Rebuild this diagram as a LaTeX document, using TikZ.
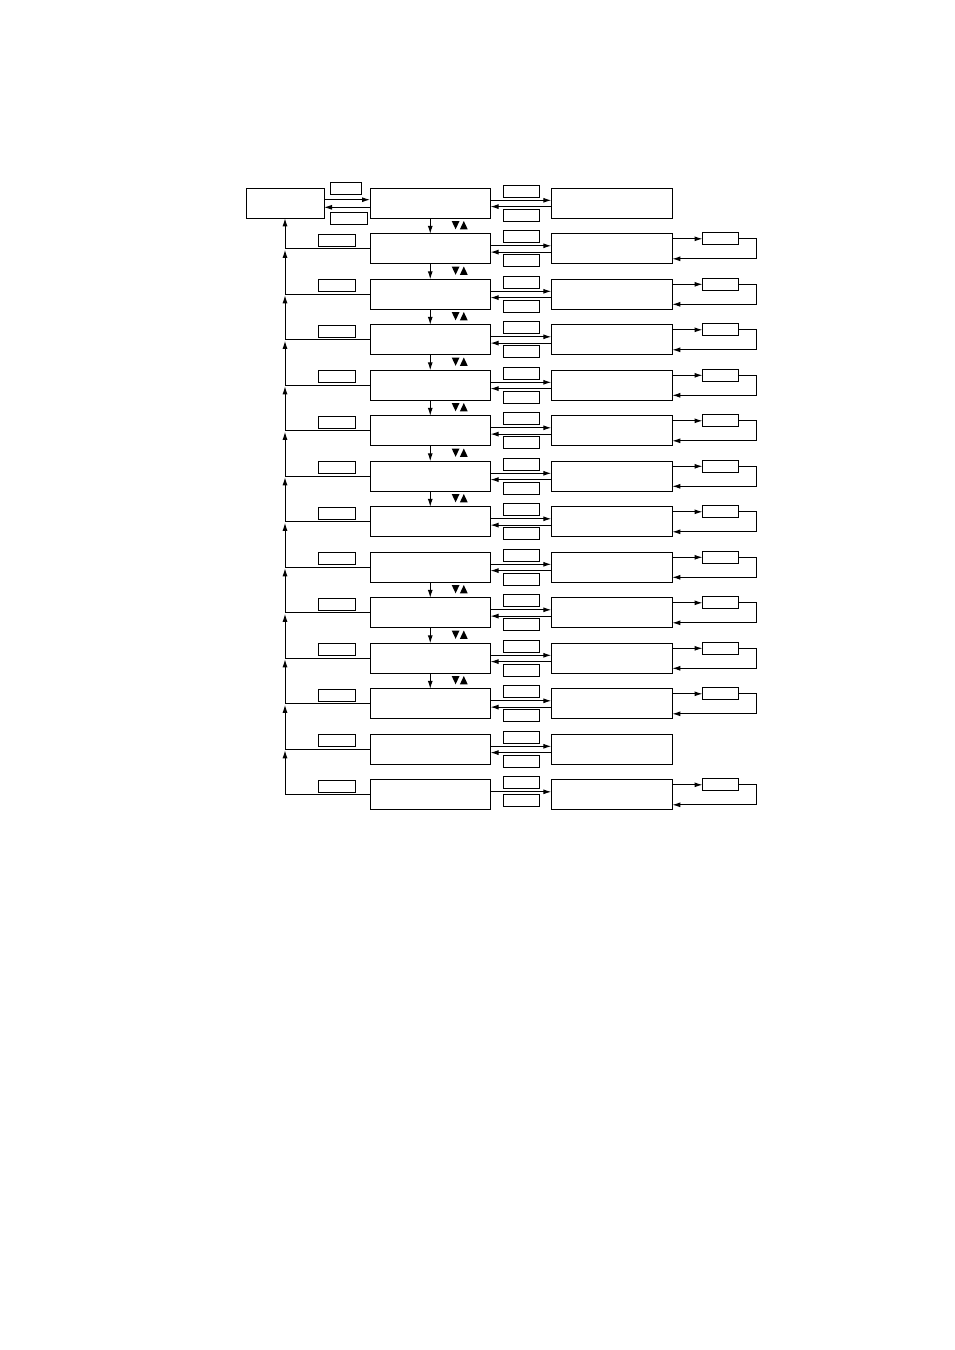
\documentclass[tikz,border=0pt]{standalone}
\usetikzlibrary{arrows.meta,calc}
\tikzset{
 box/.style={draw,line width=1pt,minimum width=120.5pt,minimum height=30pt,inner sep=0pt,outer sep=0pt},
 lbl/.style={draw,line width=1pt,minimum width=36pt,minimum height=12pt,inner sep=0pt,outer sep=0pt},
 arr/.style={line width=1pt,-{Latex[length=8pt,width=5pt]}},
 ln/.style={line width=1pt},
 tri/.style={fill=black}
}
\begin{document}
\begin{tikzpicture}[x=1pt,y=-1pt]
\useasboundingbox (0,0) rectangle (954,1350);
% left box
\node[box,minimum width=78pt] (L) at (285,203.3) {};
% columns
\foreach \i in {1,...,14}{
  \pgfmathsetmacro\c{203.3+45.5*(\i-1)}
  \node[box] (m\i) at (430.25,\c) {};
  \node[box,minimum width=121pt] (r\i) at (611.8,\c) {};
  \node[lbl] (ta\i) at (521.3,\c-12) {};
}
% mid <-> right
\foreach \i in {1,...,13}{
  \pgfmathsetmacro\c{203.3+45.5*(\i-1)}
  \node[lbl] (tb\i) at (521.3,\c+12) {};
  \draw[arr] ([yshift=3pt]m\i.east) -- ([yshift=3pt]r\i.west);
  \draw[arr] ([yshift=-3.3pt]r\i.west) -- ([yshift=-3.3pt]m\i.east);
}
\node[lbl] (tb14) at (521.3,800.3) {};
\draw[arr] ([yshift=3pt]m14.east) -- ([yshift=3pt]r14.west);
% right loops
\foreach \i in {2,...,12,14}{
  \pgfmathsetmacro\c{203.3+45.5*(\i-1)}
  \node[lbl] (q\i) at (720.5,\c-10) {};
  \draw[arr] ([yshift=10pt]r\i.east) -- (q\i.west);
  \draw[arr] (q\i.east) -- ++(18,0) |- ([yshift=-10pt]r\i.east);
}
% down arrows and triangles
\foreach \i [evaluate=\i as \n using int(\i+1)] in {1,...,7,9,10,11}{
  \pgfmathsetmacro\c{203.3+45.5*(\i-1)}
  \draw[arr] (m\i.south) -- (m\n.north);
  \fill[tri] (451.7,\c+17.7) -- (459.5,\c+17.7) -- (455.6,\c+26) -- cycle;
  \fill[tri] (459.9,\c+26) -- (467.7,\c+26) -- (463.8,\c+17.7) -- cycle;
}
% left side
\foreach \i in {2,...,14}{
  \pgfmathsetmacro\c{203.3+45.5*(\i-1)}
  \node[lbl,minimum width=37.5pt] (p\i) at (336.8,\c-8.8) {};
  \coordinate (j\i) at (285,\c);
  \draw[ln] (j\i) -- (m\i.west);
}
\draw[arr] (j2) -- (L.south);
\foreach \i [evaluate=\i as \p using int(\i-1)] in {3,...,14}{
  \draw[arr,shorten >=1pt] (j\i) -- (j\p);
}
% top row
\node[lbl,minimum width=31pt] (t0a) at (345.5,188.3) {};
\node[lbl,minimum width=37pt] (t0b) at (348.8,218.3) {};
\draw[arr] ([yshift=3.6pt]L.east) -- ([yshift=3.6pt]m1.west);
\draw[arr] ([yshift=-4pt]m1.west) -- ([yshift=-4pt]L.east);
\end{tikzpicture}
\end{document}
